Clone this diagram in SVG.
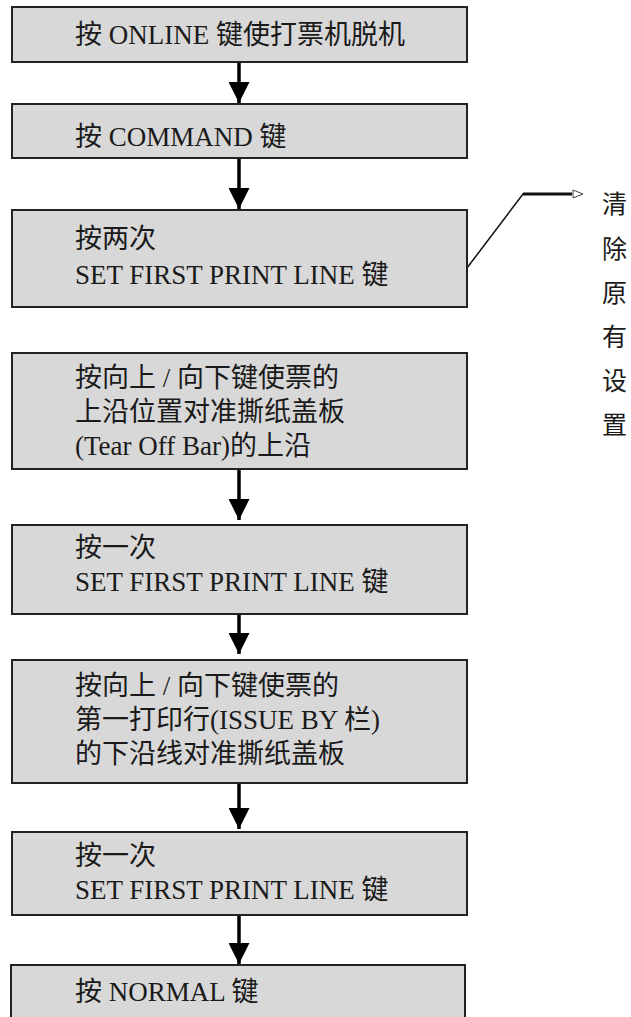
<svg xmlns="http://www.w3.org/2000/svg" width="631" height="1017" viewBox="0 0 631 1017">
<defs>
<style>
.box{fill:#d8d8d8;stroke:#222;stroke-width:2}
.t{font-family:"Liberation Serif","Noto Sans CJK SC",serif;font-size:27px;fill:#1a1a1a}
.v{font-family:"Liberation Serif","Noto Sans CJK SC",serif;font-size:25px;fill:#1a1a1a}
.flow{stroke:#000;stroke-width:3.5;fill:none}
.side{stroke:#111;stroke-width:1.5;fill:none}
</style>
<marker id="ah" viewBox="0 0 10 10" refX="10" refY="5" markerWidth="6" markerHeight="6" markerUnits="strokeWidth" orient="auto">
<path d="M0,0 L10,5 L0,10 Z" fill="#000"/>
</marker>
<marker id="oh" viewBox="0 0 12 10" refX="11" refY="5" markerWidth="12" markerHeight="10" markerUnits="userSpaceOnUse" orient="auto">
<path d="M1,1 L11,5 L1,9 Z" fill="#fff" stroke="#444" stroke-width="1"/>
</marker>
</defs>
<rect width="631" height="1017" fill="#fff"/>
<g id="connectors">
<line class="flow" x1="239" y1="62" x2="239" y2="103" marker-end="url(#ah)"/>
<line class="flow" x1="239" y1="159" x2="239" y2="209" marker-end="url(#ah)"/>
<line class="flow" x1="239" y1="470" x2="239" y2="520" marker-end="url(#ah)"/>
<line class="flow" x1="239" y1="615" x2="239" y2="654" marker-end="url(#ah)"/>
<line class="flow" x1="239" y1="784" x2="239" y2="829" marker-end="url(#ah)"/>
<line class="flow" x1="239" y1="916" x2="239" y2="964" marker-end="url(#ah)"/>
<polyline class="side" points="467,268 523,194 572,194"/>
<line x1="523" y1="194" x2="572" y2="194" stroke="#111" stroke-width="3"/>
<line x1="570" y1="194" x2="583" y2="194" stroke="none" marker-end="url(#oh)"/>
</g>
<g id="n1"><rect class="box" x="12" y="7" width="455" height="55"/><text class="t" x="75" y="44">按 ONLINE 键使打票机脱机</text></g>
<g id="n2"><rect class="box" x="12" y="104" width="455" height="54"/><text class="t" x="75" y="146">按 COMMAND 键</text></g>
<g id="n3"><rect class="box" x="12" y="210" width="455" height="97"/><text class="t" x="75" y="248">按两次</text><text class="t" x="75" y="284">SET FIRST PRINT LINE 键</text></g>
<g id="n4"><rect class="box" x="12" y="353" width="455" height="116"/><text class="t" x="75" y="387">按向上 / 向下键使票的</text><text class="t" x="75" y="421">上沿位置对准撕纸盖板</text><text class="t" x="75" y="455">(Tear Off Bar)的上沿</text></g>
<g id="n5"><rect class="box" x="12" y="525" width="455" height="89"/><text class="t" x="75" y="557">按一次</text><text class="t" x="75" y="591">SET FIRST PRINT LINE 键</text></g>
<g id="n6"><rect class="box" x="12" y="660" width="455" height="123"/><text class="t" x="75" y="695">按向上 / 向下键使票的</text><text class="t" x="75" y="729">第一打印行(ISSUE BY 栏)</text><text class="t" x="75" y="763">的下沿线对准撕纸盖板</text></g>
<g id="n7"><rect class="box" x="12" y="832" width="455" height="83"/><text class="t" x="75" y="865">按一次</text><text class="t" x="75" y="899">SET FIRST PRINT LINE 键</text></g>
<g id="n8"><rect class="box" x="11" y="965" width="454" height="70"/><text class="t" x="75" y="1001">按 NORMAL 键</text></g>
<g id="note">
<text class="v" x="602" y="213">清</text>
<text class="v" x="602" y="258">除</text>
<text class="v" x="602" y="302">原</text>
<text class="v" x="602" y="346">有</text>
<text class="v" x="602" y="390">设</text>
<text class="v" x="602" y="434">置</text>
</g>
</svg>
